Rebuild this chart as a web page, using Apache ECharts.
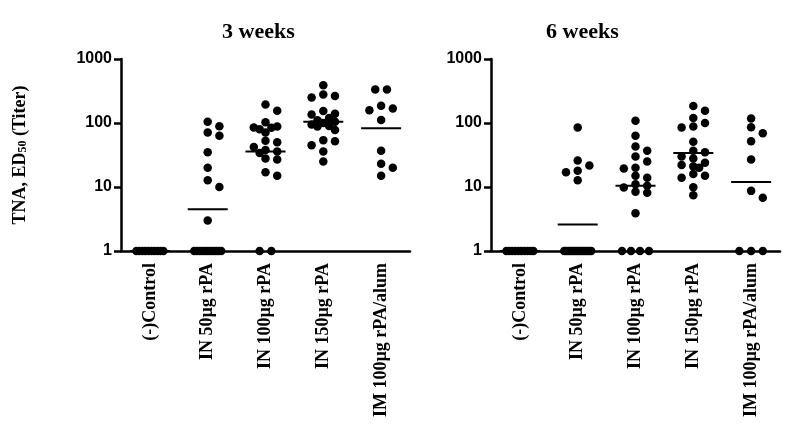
<!DOCTYPE html>
<html>
<head>
<meta charset="utf-8">
<script src="https://cdn.jsdelivr.net/npm/echarts@6/dist/echarts.min.js"></script>
<style>
  html, body { margin: 0; padding: 0; background: #fff; }
  #chart-container { width: 800px; height: 440px; }
</style>
</head>
<body>
<div id="chart-container"></div>
<script>
// groups on the x axis
var categories = ['(-)Control', 'IN 50µg rPA', 'IN 100µg rPA', 'IN 150µg rPA', 'IM 100µg rPA/alum'];
var panelTitles = ['3 weeks', '6 weeks'];
var yTicks = [1, 10, 100, 1000];

// 3 weeks, one array per group (titers)
var w3Control = [1, 1, 1, 1, 1, 1, 1, 1, 1, 1];
var w3In50 = [105, 89, 71, 63, 35, 20, 12.8, 10, 3, 1, 1, 1, 1, 1, 1, 1, 1, 1, 1, 1];
var w3In100 = [195, 155, 103, 88, 85, 84, 80, 71, 53, 50, 42, 38, 36, 34, 28, 27, 17, 15, 1, 1];
var w3In150 = [390, 280, 265, 250, 154, 140, 136, 120, 110, 105, 100, 95, 90, 88, 78, 54, 52, 45, 36, 25];
var w3Im = [335, 335, 186, 169, 158, 111, 37, 23, 20, 15];
var w3Means = [1, 4.5, 36, 105, 83];

// 6 weeks
var w6Control = [1, 1, 1, 1, 1, 1, 1, 1, 1, 1];
var w6In50 = [85, 26, 21.6, 18, 17, 12.7, 1, 1, 1, 1, 1, 1, 1, 1, 1, 1, 1, 1, 1, 1];
var w6In100 = [108, 63, 43, 37, 30, 25, 20, 19.5, 15, 14, 11, 10.5, 9.8, 8.4, 8.1, 3.9, 1, 1, 1, 1];
var w6In150 = [185, 155, 120, 100, 88, 85, 51, 37, 35, 30, 28, 24, 22, 21, 20, 16, 15, 14, 9.9, 7.4];
var w6Im = [118, 86, 69, 52, 27, 8.7, 6.8, 1, 1, 1];
var w6Means = [1, 2.6, 10.5, 34, 12];

var panels = [
  { groups: [w3Control, w3In50, w3In100, w3In150, w3Im], means: w3Means },
  { groups: [w6Control, w6In50, w6In100, w6In150, w6Im], means: w6Means }
];

var dom = document.getElementById('chart-container');
var myChart = echarts.init(dom, null, { renderer: 'canvas' });

var serif = 'Liberation Serif';
var sans = 'Liberation Sans';
var DOT = 8.5;
var STEP = 11.7;
var MAXSPAN = 27;

function dotData(p, offsets) {
  var out = [];
  panels[p].groups.forEach(function (vals, c) {
    vals.forEach(function (v, i) {
      out.push({ value: [c, v], symbolOffset: [offsets ? offsets[c][i] : 0, 0] });
    });
  });
  return out;
}

// simple beeswarm: spread points sideways so they don't overlap too much
function swarm(vals, ys) {
  var order = vals.map(function (v, i) { return i; })
    .sort(function (a, b) { return vals[b] - vals[a]; });
  var dx = vals.map(function () { return 0; });
  var placed = [];
  var i = 0;
  while (i < order.length) {
    var j = i;
    while (j < order.length && vals[order[j]] === vals[order[i]]) j++;
    var k = j - i;
    if (k > 1) {
      var sp = Math.min(STEP, MAXSPAN / (k - 1));
      for (var m = 0; m < k; m++) {
        var idx = order[i + m];
        dx[idx] = (m - (k - 1) / 2) * sp;
        placed.push([dx[idx], ys[idx]]);
      }
    } else {
      var id = order[i], y = ys[id];
      var cands = [0, STEP, -STEP, STEP / 2, -STEP / 2];
      var best = 0, bestD = -1;
      for (var q = 0; q < cands.length; q++) {
        var c = cands[q];
        var md = Infinity;
        placed.forEach(function (pt) { md = Math.min(md, Math.hypot(pt[0] - c, pt[1] - y)); });
        if (md >= DOT * 0.85) { best = c; break; }
        if (md > bestD) { bestD = md; best = c; }
      }
      dx[id] = best;
      placed.push([best, y]);
    }
    i = j;
  }
  return dx;
}

var grids = [
  { left: 121, top: 59, width: 289, height: 192 },
  { left: 491, top: 59, width: 289, height: 192 }
];

var option = {
  animation: false,
  backgroundColor: '#fff',
  title: [
    { text: panelTitles[0], left: 217, top: 16,
      textStyle: { fontFamily: serif, fontWeight: 'bold', fontSize: 22, color: '#000' } },
    { text: panelTitles[1], left: 541, top: 16,
      textStyle: { fontFamily: serif, fontWeight: 'bold', fontSize: 22, color: '#000' } }
  ],
  grid: grids,
  xAxis: [0, 1].map(function (p) {
    return {
      type: 'category',
      gridIndex: p,
      data: categories,
      boundaryGap: true,
      axisLine: { show: true, lineStyle: { color: '#000', width: 2.5 } },
      axisTick: { show: false },
      splitLine: { show: false },
      axisLabel: {
        rotate: 90, interval: 0, margin: 12,
        fontFamily: serif, fontWeight: 'bold', fontSize: 18, color: '#000'
      }
    };
  }),
  yAxis: [0, 1].map(function (p) {
    return {
      type: 'log',
      logBase: 10,
      gridIndex: p,
      min: yTicks[0],
      max: yTicks[yTicks.length - 1],
      name: p === 0 ? '{a|TNA, ED}{s|50}{a| (Titer)}' : '',
      nameLocation: 'middle',
      nameGap: 92,
      nameRotate: 90,
      nameTextStyle: {
        rich: {
          a: { fontFamily: serif, fontWeight: 'bold', fontSize: 18, color: '#000' },
          s: { fontFamily: serif, fontWeight: 'bold', fontSize: 12, color: '#000', verticalAlign: 'bottom' }
        }
      },
      axisLine: { show: true, lineStyle: { color: '#000', width: 2.5 } },
      axisTick: { show: true, length: 7, lineStyle: { color: '#000', width: 2.5 } },
      minorTick: { show: false },
      splitLine: { show: false },
      axisLabel: {
        margin: 9, fontFamily: sans, fontWeight: 'bold', fontSize: 16, color: '#000',
        formatter: function (v) { return String(Math.round(v)); }
      }
    };
  }),
  series: []
};

[0, 1].forEach(function (p) {
  option.series.push({
    type: 'scatter',
    xAxisIndex: p, yAxisIndex: p,
    symbol: 'circle', symbolSize: DOT,
    itemStyle: { color: '#000', opacity: 1 },
    data: dotData(p, null),
    z: 3
  });
  option.series.push({
    type: 'scatter',
    xAxisIndex: p, yAxisIndex: p,
    symbol: 'rect', symbolSize: [40, 2],
    itemStyle: { color: '#000', opacity: 1 },
    data: panels[p].means.map(function (m, c) { return [c, m]; }),
    z: 4
  });
});

myChart.setOption(option);

// second pass: swarm offsets from the pixel positions of each value
var seriesUpdate = [];
[0, 1].forEach(function (p) {
  var offsets = panels[p].groups.map(function (vals, c) {
    var ys = vals.map(function (v) {
      return myChart.convertToPixel({ xAxisIndex: p, yAxisIndex: p }, [c, v])[1];
    });
    return swarm(vals, ys);
  });
  seriesUpdate.push({ data: dotData(p, offsets) });
  seriesUpdate.push({});
});
myChart.setOption({ series: seriesUpdate });

window.addEventListener('resize', myChart.resize);
</script>
</body>
</html>
